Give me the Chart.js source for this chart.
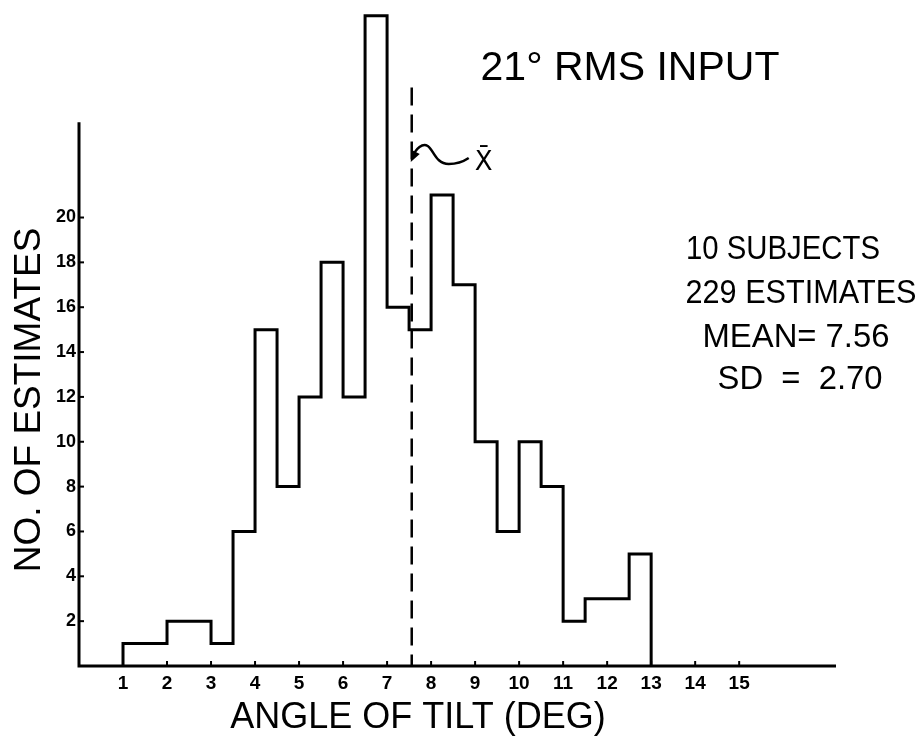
<!DOCTYPE html>
<html>
<head>
<meta charset="utf-8">
<script src="https://cdn.jsdelivr.net/npm/chart.js@4.4.1/dist/chart.umd.min.js"></script>
<style>
html,body{margin:0;padding:0;background:#fff;}
#wrap{width:922px;height:738px;position:relative;}
</style>
</head>
<body>
<div id="wrap"><canvas id="c"></canvas></div>
<script>
// ---- data ----
const binEdges  = [1, 1.5, 2, 2.5, 3, 3.5, 4, 4.5, 5, 5.5, 6, 6.5, 7, 7.5, 8, 8.5, 9, 9.5, 10, 10.5, 11, 11.5, 12, 12.5, 13];
const binCounts = [1, 1, 2, 2, 1, 6, 15, 8, 12, 18, 12, 29, 16, 15, 21, 17, 10, 6, 10, 8, 2, 3, 3, 5];
const xTickLabels = [1, 2, 3, 4, 5, 6, 7, 8, 9, 10, 11, 12, 13, 14, 15];
const yTickLabels = [2, 4, 6, 8, 10, 12, 14, 16, 18, 20];
const meanValue = 7.56;
const sdValue = 2.70;
const subjectCount = 10;
const estimateCount = 229;
const chartTitle = "21° RMS INPUT";
const xTitle = "ANGLE OF TILT (DEG)";
const yTitle = "NO. OF ESTIMATES";
const meanLineTop = 25.8;
const yAxisTop = 24.25;
const xMin = 0, xMax = 17.2, yMin = 0, yMax = 29.7;

const FONT = "'Liberation Sans', Arial, sans-serif";

// histogram outline as a stepped line built from the bins
const histPoints = [{x: binEdges[0], y: 0}];
binCounts.forEach((c, i) => histPoints.push({x: binEdges[i], y: c}));
histPoints.push({x: binEdges[binEdges.length - 1], y: 0});

const meanPoints = [{x: meanValue, y: meanLineTop}, {x: meanValue, y: 0}];

const annot = {
  id: 'annot',
  afterDraw(chart) {
    const {ctx} = chart;
    const xs = chart.scales.x, ys = chart.scales.y;
    ctx.save();
    ctx.strokeStyle = '#000';
    ctx.fillStyle = '#000';
    // axes lines
    const x0 = xs.getPixelForValue(xMin), y0 = ys.getPixelForValue(0);
    ctx.lineWidth = 3;
    ctx.beginPath();
    ctx.moveTo(x0, ys.getPixelForValue(yAxisTop));
    ctx.lineTo(x0, y0);
    ctx.lineTo(xs.getPixelForValue(xMax), y0);
    ctx.stroke();
    // tick marks (inside)
    ctx.lineWidth = 2;
    yTickLabels.forEach(v => {
      const py = ys.getPixelForValue(v);
      ctx.beginPath(); ctx.moveTo(x0, py); ctx.lineTo(x0 + 5, py); ctx.stroke();
    });
    xTickLabels.forEach(v => {
      const px = xs.getPixelForValue(v);
      ctx.beginPath(); ctx.moveTo(px, y0); ctx.lineTo(px, y0 - 5); ctx.stroke();
    });

    // y axis title (rotated)
    ctx.save();
    ctx.translate(40, 400);
    ctx.rotate(-Math.PI / 2);
    ctx.font = `37px ${FONT}`;
    ctx.textAlign = 'center';
    ctx.textBaseline = 'alphabetic';
    ctx.fillText(yTitle, 0, 0, 352);
    ctx.restore();

    // chart heading
    ctx.font = `41px ${FONT}`;
    ctx.textAlign = 'center';
    ctx.textBaseline = 'alphabetic';
    ctx.fillText(chartTitle, 630, 80, 300);

    // stats block
    ctx.font = `34px ${FONT}`;
    ctx.fillText(`${subjectCount} SUBJECTS`, 783, 259, 194);
    ctx.fillText(`${estimateCount} ESTIMATES`, 801, 303, 231);
    ctx.fillText(`MEAN= ${meanValue.toFixed(2)}`, 796, 347, 187);
    ctx.fillText(`SD  =  ${sdValue.toFixed(2)}`, 800, 389, 165);

    // squiggly arrow pointing to the mean line
    const mx = xs.getPixelForValue(meanValue);
    ctx.lineWidth = 2.5;
    ctx.beginPath();
    ctx.moveTo(mx + 1, 157);
    ctx.bezierCurveTo(mx + 4, 148, mx + 11, 143, mx + 16, 146);
    ctx.bezierCurveTo(mx + 22, 150, mx + 24, 164, mx + 37, 164);
    ctx.quadraticCurveTo(mx + 48, 164, mx + 57, 158);
    ctx.stroke();
    ctx.beginPath();
    ctx.moveTo(mx - 1, 162);
    ctx.lineTo(mx, 150);
    ctx.lineTo(mx + 8, 154);
    ctx.closePath();
    ctx.fill();

    ctx.font = `26px 'DejaVu Sans', ${FONT}`;
    ctx.textAlign = 'left';
    ctx.fillText('X\u0304', mx + 63, 170);
    ctx.restore();
  }
};

new Chart(document.getElementById('c'), {
  type: 'line',
  data: {
    datasets: [
      {
        label: 'Estimates',
        data: histPoints,
        stepped: 'before',
        borderColor: '#000',
        borderWidth: 3,
        borderJoinStyle: 'miter',
        pointRadius: 0,
        fill: false,
        tension: 0
      },
      {
        label: 'Mean',
        data: meanPoints,
        borderColor: '#000',
        borderWidth: 2.5,
        borderDash: [18, 9],
        pointRadius: 0,
        fill: false
      }
    ]
  },
  options: {
    responsive: true,
    maintainAspectRatio: false,
    devicePixelRatio: 1,
    animation: false,
    events: [],
    layout: {padding: {left: 0, right: 86, top: 0, bottom: 0}},
    scales: {
      x: {
        type: 'linear',
        min: xMin, max: xMax,
        afterBuildTicks(scale) { scale.ticks = xTickLabels.map(v => ({value: v})); },
        afterFit(scale) { scale.height = 34; scale.paddingLeft = 0; scale.paddingRight = 0; },
        grid: {display: false, drawTicks: false, tickLength: 0},
        border: {display: false},
        ticks: {
          color: '#000',
          padding: 6,
          maxRotation: 0,
          autoSkip: false,
          font: {family: FONT, size: 19, weight: 'bold'},
          callback: v => String(v)
        }
      },
      y: {
        type: 'linear',
        min: yMin, max: yMax,
        afterBuildTicks(scale) { scale.ticks = yTickLabels.map(v => ({value: v})); },
        afterFit(scale) { scale.width = 79; scale.paddingTop = 0; scale.paddingBottom = 0; },
        grid: {display: false, drawTicks: false, tickLength: 0},
        border: {display: false},
        ticks: {
          color: '#000',
          padding: 3,
          autoSkip: false,
          font: {family: FONT, size: 18, weight: 'bold'},
          callback: v => String(v)
        }
      }
    },
    plugins: {
      legend: {display: false},
      tooltip: {enabled: false},
      title: {
        display: true,
        text: xTitle,
        position: 'bottom',
        color: '#000',
        font: {family: FONT, size: 36, weight: 'normal', lineHeight: 1},
        padding: {top: 0, bottom: 2}
      }
    }
  },
  plugins: [annot]
});
</script>
</body>
</html>
